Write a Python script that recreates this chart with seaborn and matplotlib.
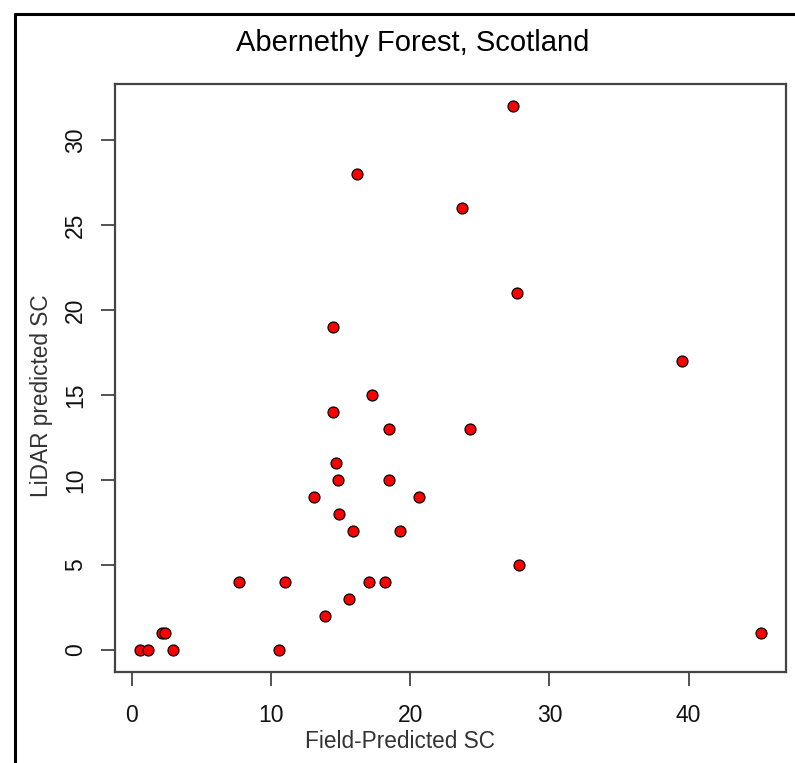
import matplotlib
matplotlib.use("Agg")
import matplotlib.pyplot as plt
from matplotlib.lines import Line2D
import seaborn as sns
import pandas as pd

# Data
field_predicted_sc = [27.36, 16.16, 23.70, 27.69, 39.50, 14.48, 17.26, 14.48, 18.48, 24.32,
                      14.70, 14.80, 18.48, 13.07, 20.60, 14.90, 15.90, 19.30, 27.85, 7.68,
                      11.03, 17.04, 18.20, 15.58, 13.88, 2.15, 2.42, 45.20, 0.62, 1.17,
                      2.99, 10.60]
lidar_predicted_sc = [32, 28, 26, 21, 17, 19, 15, 14, 13, 13,
                      11, 10, 10, 9, 9, 8, 7, 7, 5, 4,
                      4, 4, 4, 3, 2, 1, 1, 1, 0, 0,
                      0, 0]
x_ticks = [0, 10, 20, 30, 40]
y_ticks = [0, 5, 10, 15, 20, 25, 30]
title = "Abernethy Forest, Scotland"
x_label = "Field-Predicted SC"
y_label = "LiDAR predicted SC"

df = pd.DataFrame({"field": field_predicted_sc, "lidar": lidar_predicted_sc})

sns.set_theme(style="white")
plt.rcParams["font.family"] = ["Liberation Sans", "DejaVu Sans"]

W, H = 795, 763
fig = plt.figure(figsize=(W / 100, H / 100), dpi=100)
ax = fig.add_axes([115 / W, (H - 672) / H, (786 - 115) / W, (672 - 84) / H])

sns.scatterplot(data=df, x="field", y="lidar", ax=ax, s=62, color="#ff0000",
                edgecolor="#000000", linewidth=0.9, zorder=3, legend=False)

ax.set_xlim(-1.2, 46.99)
ax.set_ylim(-1.29, 33.29)
ax.set_xticks(x_ticks)
ax.set_yticks(y_ticks)
ax.set_xticklabels([str(t) for t in x_ticks])
ax.set_yticklabels([str(t) for t in y_ticks], rotation=90, va="center")
ax.set_xlabel("")
ax.set_ylabel("")

frame_col = "#444444"
for sp in ax.spines.values():
    sp.set_visible(True)
    sp.set_color(frame_col)
    sp.set_linewidth(1.6)

ax.tick_params(axis="both", which="major", direction="out", length=10, width=1.3,
               color=frame_col, labelsize=16.5, labelcolor="#111111",
               bottom=True, left=True)
ax.tick_params(axis="x", pad=13)
ax.tick_params(axis="y", pad=10)

fig.text(413 / W, 1 - 43 / H, title, ha="center", va="center", fontsize=21, color="#000000")
fig.text(400 / W, 1 - 742 / H, x_label, ha="center", va="center", fontsize=16.3, color="#333333")
fig.text(42 / W, 1 - 396 / H, y_label, ha="center", va="center", rotation=90,
         fontsize=16.3, color="#333333")

# outer frame (left and top edges)
fx = 15 / W
fy = 1 - 14 / H
fig.add_artist(Line2D([fx, fx], [0, fy], transform=fig.transFigure, color="black", linewidth=2.2))
fig.add_artist(Line2D([fx, 1], [fy, fy], transform=fig.transFigure, color="black", linewidth=2.2))

fig.savefig("out.png", dpi=100)
